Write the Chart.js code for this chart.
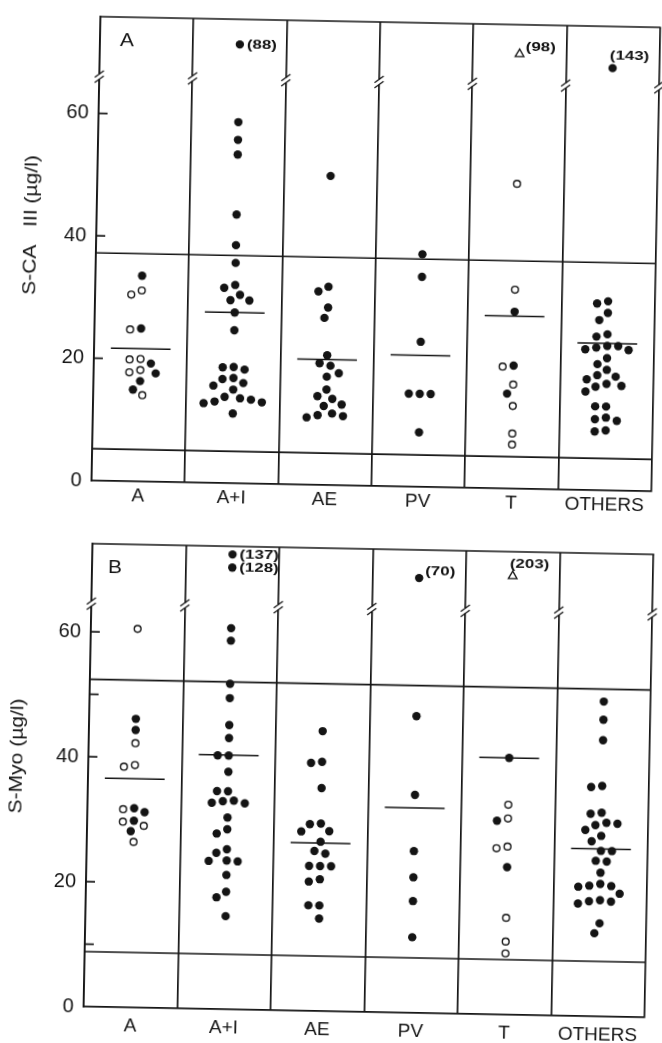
<!DOCTYPE html>
<html>
<head>
<meta charset="utf-8">
<script src="https://cdn.jsdelivr.net/npm/chart.js@4.4.1/dist/chart.umd.min.js"></script>
<style>
html,body{margin:0;padding:0;background:#fff;width:662px;height:1043px;overflow:hidden;}
canvas{position:absolute;left:0;}
#cA{top:0;transform-origin:377px 250.5px;transform:rotate(1.1deg);}
#cB{top:520px;transform-origin:368.75px 260.5px;transform:rotate(1.1deg);}
</style>
</head>
<body>
<canvas id="cA" width="662" height="520"></canvas>
<canvas id="cB" width="662" height="523"></canvas>
<script>
// ---------------- DATA ----------------
const categories = ['A', 'A+I', 'AE', 'PV', 'T', 'OTHERS'];

// Panel A : S-CA III (µg/l)
const caFilled = [
  [33.6, 25.0, 19.3, 17.7, 16.4, 15.0],
  [59.0, 56.1, 53.7, 43.9, 38.9, 36.0, 31.9, 32.4, 30.8, 29.9, 29.9, 27.9, 25.0, 18.6, 18.9, 19.0, 16.4, 17.0, 17.2, 15.9, 15.3, 13.3, 13.3, 13.0, 14.1, 13.9, 13.7, 11.4],
  [50.5, 31.6, 32.4, 29.0, 27.3, 21.2, 19.5, 19.9, 18.3, 17.7, 15.6, 14.1, 14.5, 13.2, 12.9, 11.7, 11.4, 11.3, 11.0],
  [38.0, 34.3, 23.7, 15.2, 15.2, 15.2, 8.9],
  [28.9, 20.1, 15.5],
  [30.9, 30.5, 29.0, 27.8, 25.1, 25.5, 23.3, 23.6, 23.0, 23.6, 23.0, 21.6, 20.6, 19.7, 18.6, 18.1, 18.8, 16.9, 17.4, 17.1, 16.1, 13.7, 13.7, 11.9, 11.6, 11.4, 9.8, 9.6]
];
const caOpen = [
  [31.2, 30.5, 24.8, 20.0, 19.9, 18.2, 17.8, 14.1],
  [], [], [],
  [49.8, 32.5, 19.9, 17.0, 13.5, 9.0, 7.2],
  []
];
const caMeans = [21.7, 27.9, 20.5, 21.5, 28.2, 24.0];
const caNormalRange = [5.2, 37.2];
const caTickValues = [0, 20, 40, 60];
const caTickLabels = ['0', '20', '40', '60'];
const caAxisMax = 75.8;
const caBreakAt = 66;
const caOutlierCat = [1, 4, 5];
const caOutlierValue = [88, 98, 143];
const caOutlierShownAt = [71.7, 71.0, 69.0];
const caOutlierOpen = [false, true, false];

// Panel B : S-Myo (µg/l)
const myoFilled = [
  [46.2, 44.4, 31.3, 31.9, 29.9, 28.2],
  [61.0, 59.0, 52.1, 49.8, 45.5, 43.4, 40.6, 40.6, 38.0, 34.9, 34.9, 33.0, 33.0, 33.3, 33.4, 30.7, 28.8, 28.1, 25.0, 25.6, 23.7, 23.8, 23.7, 21.5, 18.8, 17.9, 14.9],
  [44.8, 39.9, 39.7, 35.7, 29.9, 30.0, 28.7, 28.8, 27.1, 25.2, 25.6, 23.2, 23.2, 23.2, 21.1, 20.7, 16.9, 16.9, 14.8],
  [47.5, 34.9, 25.9, 21.7, 17.9, 12.1],
  [41.1, 31.0, 23.6],
  [50.4, 47.5, 44.2, 36.7, 36.9, 32.6, 32.4, 31.0, 30.6, 30.9, 29.8, 28.9, 28.0, 26.5, 26.5, 24.9, 24.8, 23.0, 20.9, 21.2, 20.9, 20.7, 19.7, 18.4, 18.4, 18.6, 18.0, 14.9, 13.3]
];
const myoOpen = [
  [60.6, 42.3, 38.8, 38.5, 31.7, 29.1, 29.7, 26.5],
  [], [], [],
  [33.6, 31.4, 26.6, 26.9, 15.5, 11.7, 9.8],
  []
];
const myoMeans = [36.6, 40.7, 26.9, 32.8, 41.1, 26.8];
const myoNormalRange = [8.8, 52.4];
const myoTickValues = [0, 10, 20, 40, 50, 60];
const myoTickLabels = ['0', '', '20', '40', '', '60'];
const myoAxisMax = 74.1;
const myoBreakAt = 64.5;
const myoOutlierCat = [1, 1, 3, 4];
const myoOutlierValue = [137, 128, 70, 203];
const myoOutlierShownAt = [72.8, 70.7, 69.6, 70.2];
const myoOutlierOpen = [false, false, false, true];

// ---------------- STYLE / HELPERS ----------------
const INK = '#141414';
const FONT = '"Liberation Sans", Arial, Helvetica, sans-serif';
const caLabelPlace = ['right', 'sup', 'above'];
const myoLabelPlace = ['right', 'right', 'sup', 'above'];

function swarmOffsets(vals, pxY, minDist) {
  const order = vals.map((v, i) => i).sort((a, b) => vals[b] - vals[a]);
  const placed = [];
  const off = new Array(vals.length).fill(0);
  for (const i of order) {
    const y = vals[i] * pxY;
    let chosen = 0;
    outer:
    for (let s = 0; s <= 80; s += 0.5) {
      const cands = s === 0 ? [0] : [-s, s];
      for (const c of cands) {
        if (placed.every(p => (p.x - c) ** 2 + (p.y - y) ** 2 >= minDist * minDist)) {
          chosen = c; break outer;
        }
      }
    }
    off[i] = chosen;
    placed.push({ x: chosen, y });
  }
  return off;
}

function buildPoints(filled, open, pxCat, pxY) {
  const F = [], O = [];
  filled.forEach((fv, i) => {
    const all = fv.map(v => ({ v, open: false })).concat(open[i].map(v => ({ v, open: true })));
    const offs = swarmOffsets(all.map(a => a.v), pxY, 11);
    all.forEach((a, k) => {
      (a.open ? O : F).push({ x: i + offs[k] / pxCat, y: a.v });
    });
  });
  return { F, O };
}

function meanSegments(means, half) {
  const d = [];
  means.forEach((m, i) => { d.push({ x: i - half, y: m }, { x: i + half, y: m }, { x: i, y: null }); });
  return d;
}
function hLine(v) { return [{ x: -0.5, y: v }, { x: 5.5, y: v }]; }

function stretchText(ctx, text, x, y, sx, rot, align, font) {
  ctx.save();
  ctx.translate(x, y);
  ctx.rotate(rot);
  ctx.scale(sx, 1);
  ctx.font = font;
  ctx.fillStyle = INK;
  ctx.textAlign = align;
  ctx.textBaseline = 'middle';
  ctx.fillText(text, 0, 0);
  ctx.restore();
}

const deco = {
  id: 'panelDeco',
  afterDraw(chart, args, o) {
    const ctx = chart.ctx, a = chart.chartArea;
    const xs = chart.scales.x, ys = chart.scales.y;
    ctx.save();
    ctx.strokeStyle = INK;
    ctx.lineWidth = 1.7;
    // top border of the box
    ctx.beginPath(); ctx.moveTo(a.left - 0.8, a.top); ctx.lineTo(a.right + 0.8, a.top); ctx.stroke();
    // inward tick marks
    ys.ticks.forEach(t => {
      if (t.value === 0) return;
      const py = ys.getPixelForValue(t.value);
      ctx.beginPath(); ctx.moveTo(a.left, py); ctx.lineTo(a.left + 9, py); ctx.stroke();
    });
    // axis breaks on every vertical line
    const by = ys.getPixelForValue(o.breakAt);
    for (let k = -0.5; k <= 5.5; k += 1) {
      const px = xs.getPixelForValue(k);
      ctx.fillStyle = '#fff';
      ctx.fillRect(px - 2.5, by - 2.6, 5, 5.2);
      ctx.lineWidth = 1.3;
      [by - 2.6, by + 2.6].forEach(c => {
        ctx.beginPath(); ctx.moveTo(px - 4.5, c + 3.4); ctx.lineTo(px + 4.5, c - 3.4); ctx.stroke();
      });
    }
    ctx.restore();
    // axis title
    stretchText(ctx, o.title, o.titleX, o.titleY, 1.17, -Math.PI / 2, 'center', '18px ' + FONT);
    // panel letter
    stretchText(ctx, o.letter, a.left + o.letterDX, a.top + o.letterDY, 1.1, 0, 'center', '19px ' + FONT);
    // outlier labels
    [5, 6].forEach(di => {
      const meta = chart.getDatasetMeta(di);
      const ds = chart.data.datasets[di].data;
      meta.data.forEach((el, j) => {
        const r = ds[j];
        let x = el.x, y = el.y;
        if (r.place === 'right') { x += 7; }
        else if (r.place === 'sup') { x += 6; y -= 7; }
        else { x -= 3; y -= 12; }
        stretchText(ctx, r.label, x, y, 1.25, 0, 'left', 'bold 13.5px ' + FONT);
      });
    });
  }
};

function makePanel(id, P) {
  const pts = buildPoints(P.filled, P.open, P.pxCat, P.pxY);
  const outF = [], outO = [];
  P.outCat.forEach((c, k) => {
    (P.outOpen[k] ? outO : outF).push({ x: c, y: P.outShown[k], label: '(' + P.outVal[k] + ')', place: P.place[k] });
  });
  const labelOf = {};
  P.tickValues.forEach((v, i) => { labelOf[v] = P.tickLabels[i]; });
  const xTickVals = [];
  for (let v = -0.5; v <= 5.5001; v += 0.5) xTickVals.push(Math.round(v * 10) / 10);

  return new Chart(document.getElementById(id), {
    type: 'scatter',
    data: {
      datasets: [
        { data: hLine(P.range[0]), showLine: true, borderColor: INK, borderWidth: 1.6, pointRadius: 0 },
        { data: hLine(P.range[1]), showLine: true, borderColor: INK, borderWidth: 1.6, pointRadius: 0 },
        { data: meanSegments(P.means, 0.32), showLine: true, spanGaps: false, borderColor: INK, borderWidth: 1.5, pointRadius: 0 },
        { data: pts.F, pointRadius: 4.2, backgroundColor: INK, borderWidth: 0 },
        { data: pts.O, pointRadius: 3.4, backgroundColor: '#fff', borderColor: INK, borderWidth: 1.4 },
        { data: outF, pointRadius: 4.2, backgroundColor: INK, borderWidth: 0 },
        { data: outO, pointStyle: 'triangle', pointRadius: 5, backgroundColor: '#fff', borderColor: INK, borderWidth: 1.3 }
      ]
    },
    options: {
      responsive: false, animation: false, devicePixelRatio: 1,
      layout: { padding: P.padding },
      plugins: {
        legend: { display: false }, tooltip: { enabled: false },
        panelDeco: { breakAt: P.breakAt, title: P.title, titleX: P.titleX, titleY: P.titleY,
                     letter: P.letter, letterDX: P.letterDX, letterDY: P.letterDY }
      },
      scales: {
        x: {
          type: 'linear', min: -0.5, max: 5.5,
          afterBuildTicks: s => { s.ticks = xTickVals.map(v => ({ value: v })); },
          afterFit: s => { s.height = P.xh; },
          grid: {
            color: c => (c.tick && Math.abs(c.tick.value % 1) === 0.5) ? INK : 'rgba(0,0,0,0)',
            lineWidth: 1.7, drawTicks: false
          },
          border: { display: true, color: INK, width: 1.7 },
          ticks: {
            autoSkip: false, maxRotation: 0, minRotation: 0,
            padding: P.xPad,
            color: INK, font: { family: FONT, size: 19 },
            callback: v => (Math.abs(v % 1) < 1e-6 ? categories[v] : '')
          }
        },
        y: {
          type: 'linear', min: 0, max: P.ymax,
          afterBuildTicks: s => { s.ticks = P.tickValues.map(v => ({ value: v })); },
          afterFit: s => { s.width = P.yw; },
          grid: { display: false, drawTicks: false },
          border: { display: true, color: INK, width: 1.7 },
          ticks: {
            padding: 10, color: INK, font: { family: FONT, size: 20 },
            callback: v => (labelOf[v] !== undefined ? labelOf[v] : '')
          }
        }
      }
    },
    plugins: [deco]
  });
}

makePanel('cA', {
  filled: caFilled, open: caOpen, means: caMeans, range: caNormalRange,
  tickValues: caTickValues, tickLabels: caTickLabels, ymax: caAxisMax, breakAt: caBreakAt,
  outCat: caOutlierCat, outVal: caOutlierValue, outShown: caOutlierShownAt, outOpen: caOutlierOpen, place: caLabelPlace,
  pxCat: 93.7, pxY: 6.21,
  padding: { top: 15, right: 4, left: 0, bottom: 0 }, yw: 96, xh: 34, xPad: 3,
  title: 'S-CA   III (µg/l)', titleX: 31.5, titleY: 231.6,
  letter: 'A', letterDX: 27, letterDY: 24
});

makePanel('cB', {
  filled: myoFilled, open: myoOpen, means: myoMeans, range: myoNormalRange,
  tickValues: myoTickValues, tickLabels: myoTickLabels, ymax: myoAxisMax, breakAt: myoBreakAt,
  outCat: myoOutlierCat, outVal: myoOutlierValue, outShown: myoOutlierShownAt, outOpen: myoOutlierOpen, place: myoLabelPlace,
  pxCat: 93.5, pxY: 6.245,
  padding: { top: 29, right: 13, left: 0, bottom: 0 }, yw: 88, xh: 31, xPad: 7,
  title: 'S-Myo (µg/l)', titleX: 17.5, titleY: 242.75,
  letter: 'B', letterDX: 23, letterDY: 24
});
</script>
</body>
</html>
